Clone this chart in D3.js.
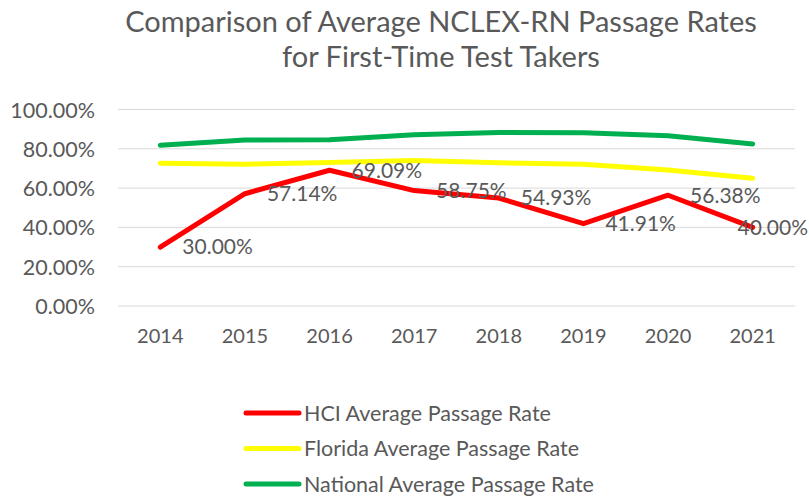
<!DOCTYPE html>
<html><head><meta charset="utf-8">
<script src="https://cdn.jsdelivr.net/npm/d3@7"></script>
<style>body{margin:0;background:#fff}svg{display:block}text{font-family:Lato,"Open Sans",sans-serif;fill:#595959}</style>
</head><body><div id="chart"></div>
<script>
const years = ["2014","2015","2016","2017","2018","2019","2020","2021"];
const hci = [30.00, 57.14, 69.09, 58.75, 54.93, 41.91, 56.38, 40.00];
const florida = [72.6, 72.2, 73.0, 74.0, 72.9, 72.1, 69.2, 65.0];
const national = [81.8, 84.5, 84.6, 87.1, 88.3, 88.2, 86.6, 82.5];
const yTicks = [0, 20, 40, 60, 80, 100];
const titleLines = ["Comparison of Average NCLEX-RN Passage Rates", "for First-Time Test Takers"];
const seriesNames = ["HCI Average Passage Rate", "Florida Average Passage Rate", "National Average Passage Rate"];
const seriesColors = ["#FF0000", "#FFFF00", "#00B050"];

const W = 809, H = 497;
const svg = d3.select("#chart").append("svg").attr("width", W).attr("height", H);
const x = d3.scaleBand().domain(years).range([118, 795]);
const y = d3.scaleLinear().domain([0, 100]).range([306, 109.5]);

svg.selectAll(".title").data(titleLines).enter().append("text")
  .attr("x", 441).attr("y", (d, i) => 32 + i * 35)
  .attr("text-anchor", "middle").style("font-size", "29px").text(d => d);

svg.append("g").selectAll("line").data(yTicks).enter().append("line")
  .attr("x1", 118).attr("x2", 795).attr("y1", d => y(d)).attr("y2", d => y(d))
  .attr("stroke", "#d9d9d9").attr("stroke-width", 1);

const yAxis = svg.append("g").attr("transform", "translate(98,0)")
  .call(d3.axisLeft(y).tickValues(yTicks).tickSize(0).tickPadding(3).tickFormat(d => d.toFixed(2) + "%"));
yAxis.select(".domain").remove();
yAxis.selectAll("text").style("font-size", "21.5px").attr("fill", "#595959").attr("dy", "0.35em");

const xAxis = svg.append("g").attr("transform", "translate(0,306)")
  .call(d3.axisBottom(x).tickSize(0));
xAxis.select(".domain").remove();
xAxis.selectAll("text").style("font-size", "20px").attr("fill", "#595959").attr("dy", "1.7em");

const line = d3.line().x((d, i) => x(years[i]) + x.bandwidth() / 2).y(d => y(d));
const allSeries = [hci, florida, national];
[2, 1, 0].forEach(k => {
  svg.append("path").datum(allSeries[k]).attr("d", line)
    .attr("fill", "none").attr("stroke", seriesColors[k]).attr("stroke-width", 5)
    .attr("stroke-linejoin", "round").attr("stroke-linecap", "round");
});

svg.append("g").selectAll("text").data(hci).enter().append("text")
  .attr("x", (d, i) => x(years[i]) + x.bandwidth() / 2 + 22)
  .attr("y", d => y(d)).attr("dy", "0.35em")
  .style("font-size", "21px").text(d => d.toFixed(2) + "%")
  .each(function () {
    const w = this.getComputedTextLength();
    const cx = +d3.select(this).attr("x");
    if (cx + w > W - 1) d3.select(this).attr("x", W - 1 - w);
  });

const leg = svg.append("g");
seriesNames.forEach((n, i) => {
  const ly = 413 + i * 35.5;
  leg.append("line").attr("x1", 246).attr("x2", 299).attr("y1", ly).attr("y2", ly)
    .attr("stroke", seriesColors[i]).attr("stroke-width", 5).attr("stroke-linecap", "round");
  leg.append("text").attr("x", 304).attr("y", ly).attr("dy", "0.35em")
    .style("font-size", "21.5px").text(n);
});
</script></body></html>
